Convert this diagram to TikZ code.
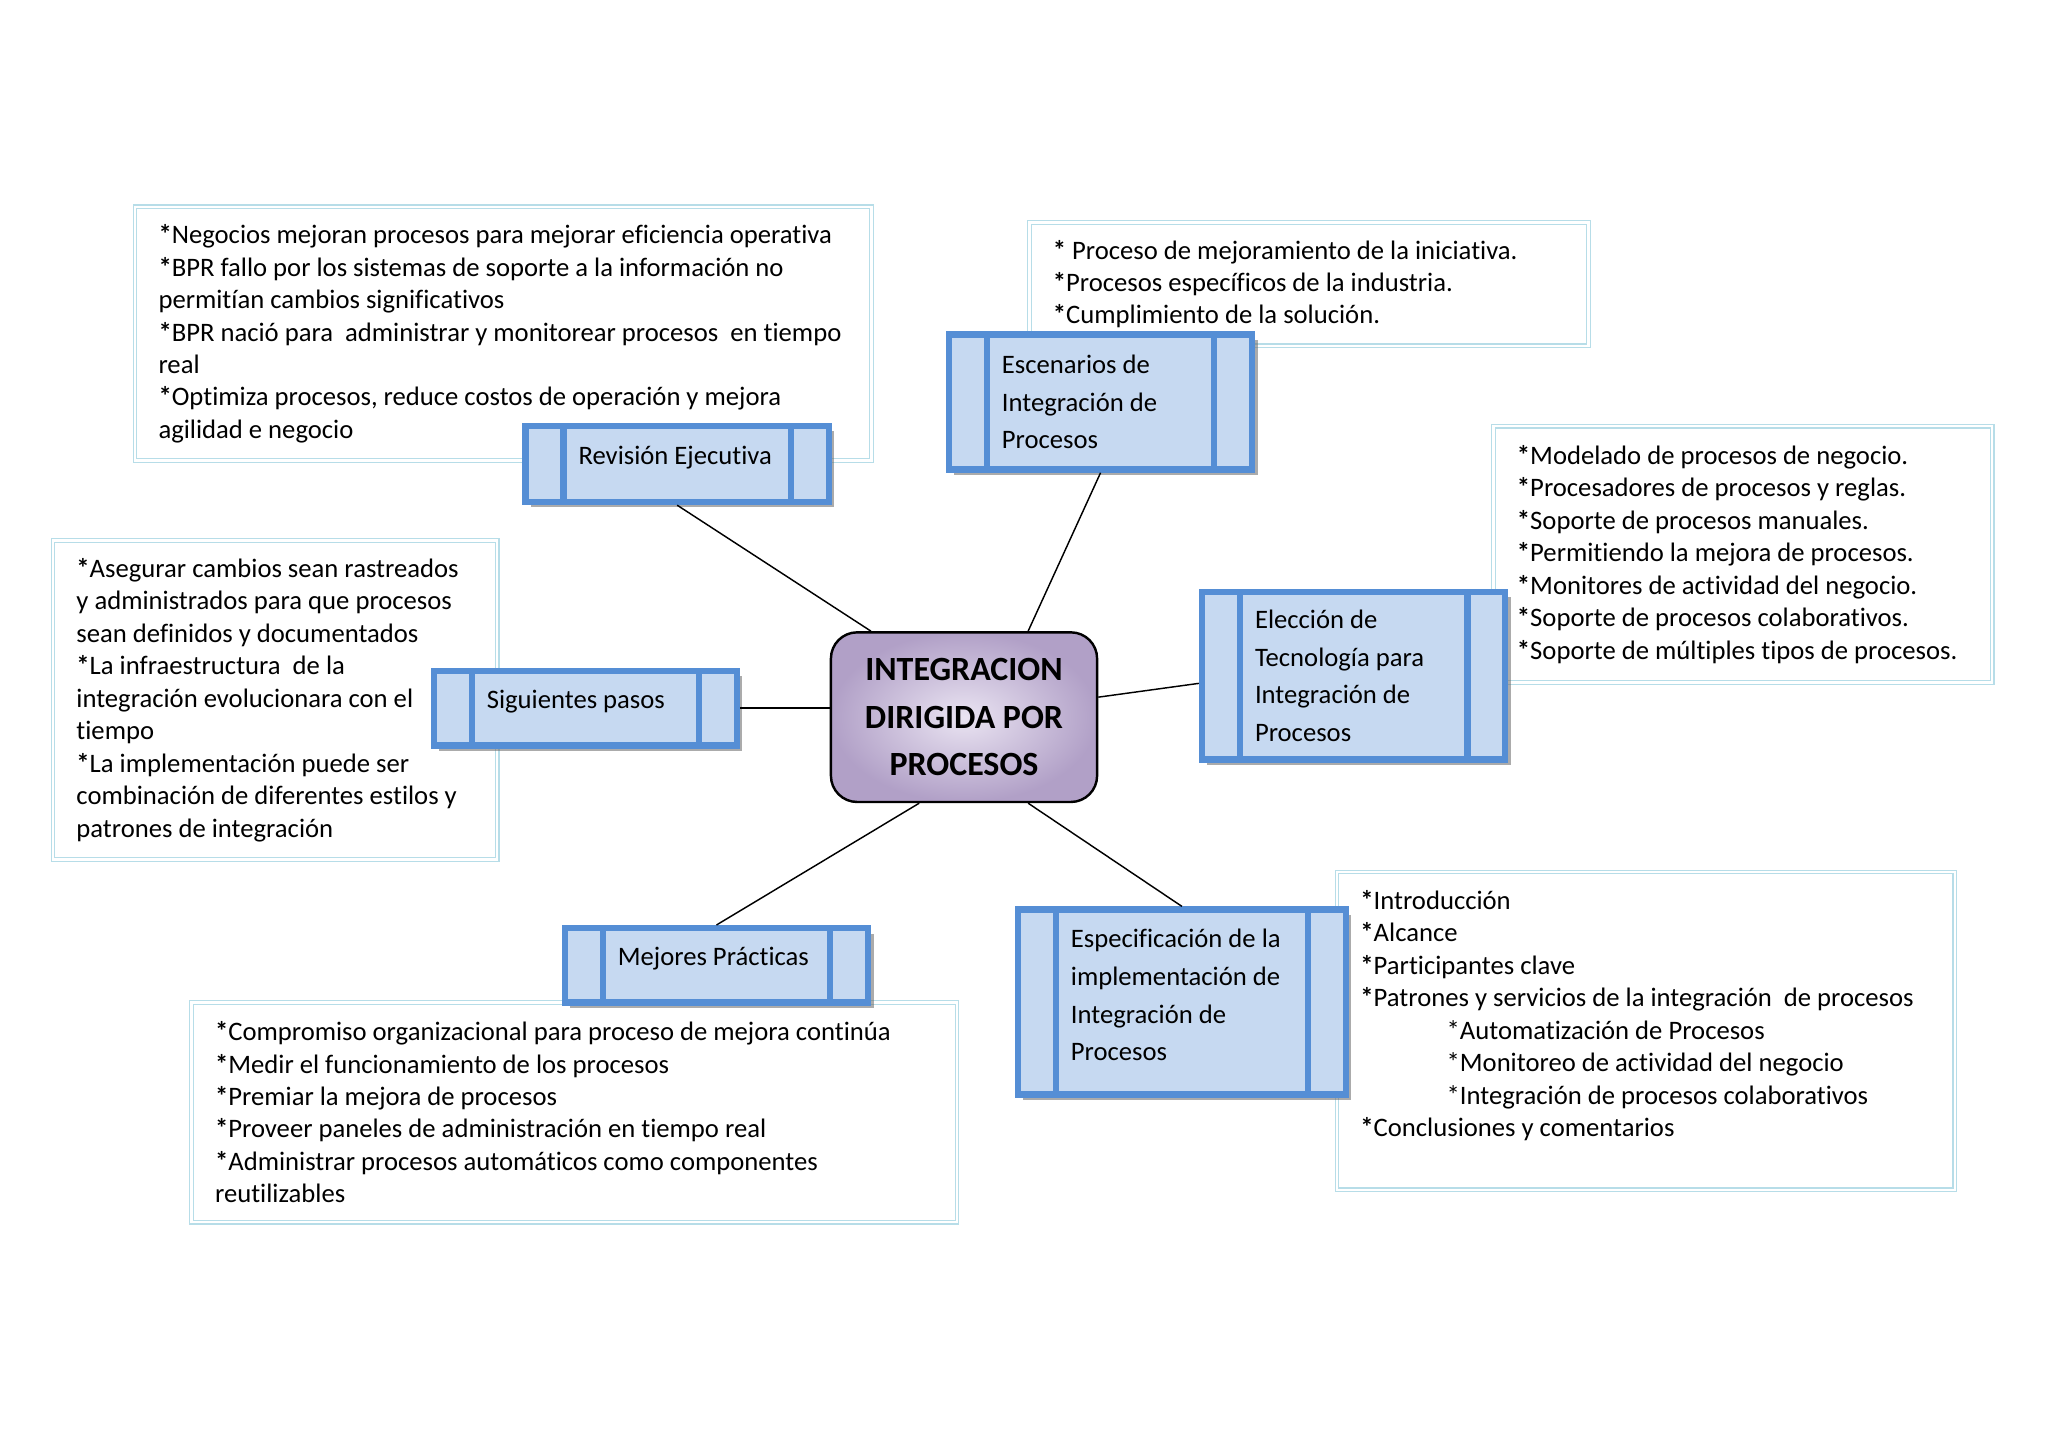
\documentclass[tikz,border=0pt]{standalone}
\usepackage{fontspec}
\setmainfont{Carlito}[Ligatures=NoCommon]
\usetikzlibrary{shadows}
\definecolor{topicline}{HTML}{558ED5}
\definecolor{topicfill}{HTML}{C6D9F1}
\definecolor{noteline}{HTML}{B7DDE8}
\definecolor{hubin}{HTML}{EAE4F2}
\definecolor{hubout}{HTML}{B1A0C7}
\newcommand{\bst}{\textbf{*}}

\begin{document}
\begin{tikzpicture}[
    x=1cm, y=-1cm,
    note/.style={rectangle, draw=noteline, double=white, line width=0.5pt, double distance=1pt, fill=white, anchor=west, inner xsep=0.34cm, align=flush left, font=\fontsize{11pt}{13.4pt}\selectfont},
    topic/.style={rectangle, draw=topicline, line width=2.6pt, fill=topicfill, minimum width=4.4cm, inner xsep=0.77cm, text width=2.86cm, align=flush left, font=\fontsize{11pt}{15.6pt}\selectfont,
        drop shadow={shadow xshift=2.2pt, shadow yshift=-2.2pt, fill=black!60, opacity=0.55},
        path picture={
            \draw[topicline, line width=2.6pt] ([xshift=0.55cm]path picture bounding box.north west) -- ([xshift=0.55cm]path picture bounding box.south west);
            \draw[topicline, line width=2.6pt] ([xshift=-0.55cm]path picture bounding box.north east) -- ([xshift=-0.55cm]path picture bounding box.south east);
        }},
    hub/.style={rectangle, rounded corners=0.38cm, draw=black, line width=1pt, inner color=hubin, outer color=hubout, minimum width=3.86cm, minimum height=2.46cm, text width=3.6cm, align=flush center, font=\fontsize{14pt}{19.7pt}\selectfont\bfseries},
    link/.style={line width=0.6pt, black}
]

\fill[white] (0,0) rectangle (29.7,21.0);
\useasboundingbox (0,0) rectangle (29.7,21.0);

% Notes: text boxes behind the topics
\node (revnotes) [note, text width=10.0cm, minimum height=3.68cm] at (1.95,4.84) {\bst Negocios mejoran procesos para mejorar eficiencia operativa\\\bst BPR fallo por los sistemas de soporte a la información no\\permitían cambios significativos\\\bst BPR nació para~ administrar y monitorear procesos~ en tiempo\\real\\\bst Optimiza procesos, reduce costos de operación y mejora\\agilidad e negocio};

\node (escnotes) [note, text width=7.43cm, minimum height=1.79cm] at (14.92,4.12) {\bst\ Proceso de mejoramiento de la iniciativa.\\\bst Procesos específicos de la industria.\\\bst Cumplimiento de la solución.};

\node (elenotes) [note, text width=6.55cm, minimum height=3.72cm] at (21.65,8.04) {\bst Modelado de procesos de negocio.\\\bst Procesadores de procesos y reglas.\\\bst Soporte de procesos manuales.\\\bst Permitiendo la mejora de procesos.\\\bst Monitores de actividad del negocio.\\\bst Soporte de procesos colaborativos.\\\bst Soporte de múltiples tipos de procesos.};

\node (signotes) [note, text width=5.76cm, minimum height=4.63cm] at (0.76,10.15) {\bst Asegurar cambios sean rastreados\\y administrados para que procesos\\sean definidos y documentados\\\bst La infraestructura~ de la\\integración evolucionara con el\\tiempo\\\bst La implementación puede ser\\combinación de diferentes estilos y\\patrones de integración};

\node (mejnotes) [note, text width=10.42cm, minimum height=3.19cm] at (2.77,16.13) {\bst Compromiso organizacional para proceso de mejora continúa\\\bst Medir el funcionamiento de los procesos\\\bst Premiar la mejora de procesos\\\bst Proveer paneles de administración en tiempo real\\\bst Administrar procesos automáticos como componentes\\reutilizables};

\node (espnotes) [note, text width=8.28cm, minimum height=4.61cm, text depth=3.80cm] at (19.38,14.95) {\bst Introducción\\\bst Alcance\\\bst Participantes clave\\\bst Patrones y servicios de la integración~ de procesos\\\hspace*{1.25cm}*Automatización de Procesos\\\hspace*{1.25cm}*Monitoreo de actividad del negocio\\\hspace*{1.25cm}*Integración de procesos colaborativos\\\bst Conclusiones y comentarios};

% Topics round the hub
\node (rev) [topic, minimum height=1.10cm, text depth=0.25cm] at (9.82,6.73) {Revisión Ejecutiva};
\node (esc) [topic, minimum height=1.96cm] at (15.96,5.83) {Escenarios de\\Integración de\\Procesos};
\node (sig) [topic, minimum height=1.08cm, text depth=0.25cm] at (8.49,10.27) {Siguientes pasos};
\node (ele) [topic, minimum height=2.43cm] at (19.63,9.80) {Elección de\\Tecnología para\\Integración de\\Procesos};
\node (mej) [topic, minimum height=1.08cm, text depth=0.25cm] at (10.39,14.00) {Mejores Prácticas};
\node (esp) [topic, minimum width=4.76cm, text width=3.22cm, minimum height=2.68cm, text depth=1.85cm] at (17.14,14.53) {Especificación de la\\implementación de\\Integración de\\Procesos};

% Hub
\node (hub) [hub] at (13.98,10.40) {INTEGRACION\\DIRIGIDA POR\\PROCESOS};

% Links from the hub
\draw[link] ([xshift=-1.35cm]hub.north) -- (rev.south);
\draw[link] ([xshift=0.93cm]hub.north) -- (esc.south);
\draw[link] (hub.west |- sig.east) -- (sig.east);
\draw[link] ([yshift=0.29cm]hub.east) -- ([yshift=-0.11cm]ele.west);
\draw[link] ([xshift=-0.65cm]hub.south) -- (mej.north);
\draw[link] ([xshift=0.93cm]hub.south) -- (esp.north);

\end{tikzpicture}
\end{document}
